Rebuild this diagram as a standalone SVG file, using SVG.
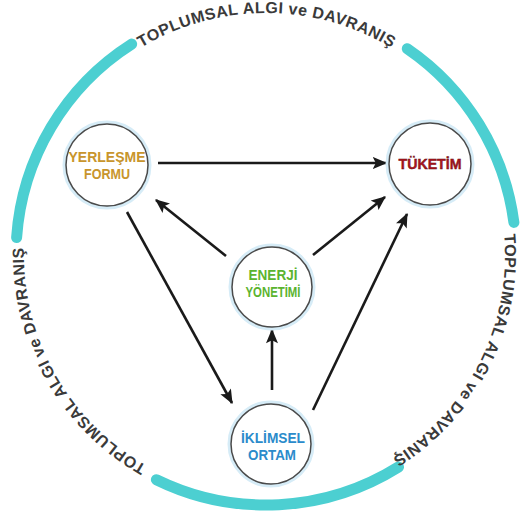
<svg xmlns="http://www.w3.org/2000/svg" xmlns:xlink="http://www.w3.org/1999/xlink" width="520" height="516" viewBox="0 0 520 516">
  <style>
    .ring { fill: none; stroke: #4ccfd1; stroke-width: 11; stroke-linecap: round; }
    .ringtxt { font-family: "Liberation Sans", Arial, sans-serif; font-size: 16px; font-weight: bold; fill: #3a3a3a; letter-spacing: 0.5px; }
    .halo { fill: none; stroke: #d6ecf7; stroke-width: 5; }
    .node { fill: #ffffff; stroke: #4a4a4a; stroke-width: 1.5; }
    .lbl { font-family: "Liberation Sans", Arial, sans-serif; font-size: 15px; font-weight: bold; text-anchor: middle; }
    .conn { stroke: #1a1a1a; stroke-width: 2.6; fill: none; marker-end: url(#ah); }
  </style>
  <defs>
    <marker id="ah" viewBox="0 0 12 10" refX="11" refY="5" markerWidth="15" markerHeight="12" markerUnits="userSpaceOnUse" orient="auto">
      <path d="M0,0 L12,5 L0,10 L2.5,5 z" fill="#1a1a1a"/>
    </marker>
    <path id="tp" d="M266,497 A242,242 0 1 1 266,13 A242,242 0 1 1 266,497"/>
    <path id="tp2" d="M266,494 A239,239 0 1 1 266,16 A239,239 0 1 1 266,494"/>
  </defs>

  <g id="ring">
    <path class="ring" d="M16.6,237.6 A250,250 0 0 1 131.7,44.1"/>
    <path class="ring" d="M407.3,48.7 A250,250 0 0 1 513.9,222.4"/>
    <path class="ring" d="M398.5,467 A250,250 0 0 1 156.4,479.7"/>
    <text class="ringtxt"><textPath xlink:href="#tp" href="#tp" startOffset="124.6">TOPLUMSAL ALGI ve DAVRANIŞ</textPath></text>
    <text class="ringtxt"><textPath xlink:href="#tp" href="#tp" startOffset="629.3">TOPLUMSAL ALGI ve DAVRANIŞ</textPath></text>
    <text class="ringtxt"><textPath xlink:href="#tp2" href="#tp2" startOffset="1105">TOPLUMSAL ALGI ve DAVRANIŞ</textPath></text>
  </g>

  <g id="connectors">
    <line class="conn" x1="158" y1="163" x2="386" y2="163"/>
    <line class="conn" x1="226" y1="256" x2="156" y2="200"/>
    <line class="conn" x1="313" y1="255" x2="385" y2="197"/>
    <line class="conn" x1="127" y1="212" x2="232" y2="403"/>
    <line class="conn" x1="272" y1="390" x2="272" y2="330"/>
    <line class="conn" x1="313" y1="410" x2="407" y2="214"/>
  </g>

  <g id="yerlesme">
    <circle class="halo" cx="107" cy="165" r="42"/>
    <circle class="node" cx="107" cy="165" r="41"/>
    <text class="lbl" fill="#c8952c" x="107" y="162" textLength="77" lengthAdjust="spacingAndGlyphs">YERLEŞME</text>
    <text class="lbl" fill="#c8952c" x="107" y="179" textLength="46" lengthAdjust="spacingAndGlyphs">FORMU</text>
  </g>

  <g id="tuketim">
    <circle class="halo" cx="430" cy="164" r="42"/>
    <circle class="node" cx="430" cy="164" r="41"/>
    <text class="lbl" fill="#b0161e" stroke="#5a0a0e" stroke-width="0.4" x="430" y="169" textLength="63" lengthAdjust="spacingAndGlyphs">TÜKETİM</text>
  </g>

  <g id="enerji">
    <circle class="halo" cx="272" cy="287" r="41"/>
    <circle class="node" cx="272" cy="287" r="40"/>
    <text class="lbl" fill="#5bb42f" x="273" y="280" textLength="49" lengthAdjust="spacingAndGlyphs">ENERJİ</text>
    <text class="lbl" fill="#5bb42f" x="273" y="297" textLength="55" lengthAdjust="spacingAndGlyphs">YÖNETİMİ</text>
  </g>

  <g id="iklimsel">
    <circle class="halo" cx="271" cy="444" r="41"/>
    <circle class="node" cx="271" cy="444" r="40"/>
    <text class="lbl" fill="#2b8bcb" x="273" y="443" textLength="64" lengthAdjust="spacingAndGlyphs">İKLİMSEL</text>
    <text class="lbl" fill="#2b8bcb" x="272" y="460" textLength="48" lengthAdjust="spacingAndGlyphs">ORTAM</text>
  </g>
</svg>
